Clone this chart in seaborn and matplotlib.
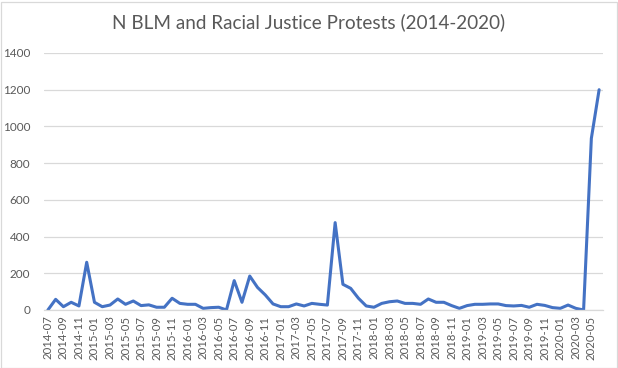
import numpy as np
import pandas as pd
import matplotlib
matplotlib.use("Agg")
import matplotlib.pyplot as plt
import seaborn as sns
from matplotlib.patches import Rectangle

# ------------------------------------------------------------
# Data: monthly counts, 2014-07 .. 2020-06
# ------------------------------------------------------------
months = pd.period_range("2014-07", "2020-06", freq="M").strftime("%Y-%m").tolist()
protests = [
    0, 58, 18, 42, 22, 260,                     # 2014-07 .. 2014-12
    42, 18, 27, 60, 31, 49, 24, 28, 15, 15, 64, 36,   # 2015
    31, 31, 9, 13, 15, 0, 160, 42, 185, 123, 82, 33,  # 2016
    18, 18, 33, 22, 36, 31, 27, 476, 140, 118, 64, 22,  # 2017
    15, 36, 45, 49, 36, 36, 31, 60, 42, 42, 24, 9,    # 2018
    24, 31, 31, 33, 33, 24, 22, 25, 15, 31, 25, 13,   # 2019
    9, 27, 9, 0, 935, 1200,                     # 2020-01 .. 2020-06
]
y_ticks = [0, 200, 400, 600, 800, 1000, 1200, 1400]

df = pd.DataFrame({"pos": np.arange(len(months)), "month": months, "n": protests})

# ------------------------------------------------------------
# Plot
# ------------------------------------------------------------
sns.set_style("white")
plt.rcParams["font.family"] = ["Lato", "DejaVu Sans"]

fig = plt.figure(figsize=(6.18, 3.68), dpi=100)
ax = fig.add_axes([44 / 618, 1 - 310 / 368, (603 - 44) / 618, (310 - 53) / 368])

sns.lineplot(data=df, x="pos", y="n", ax=ax, color="#4472C4", linewidth=2.2)

ax.set_xlim(-0.5, len(months) - 0.5)
ax.set_ylim(0, 1400)
ax.set_yticks(y_ticks)
ax.set_yticklabels([str(v) for v in y_ticks], color="#595959", fontsize=8.5)
ax.set_xticks(df["pos"][::2])
ax.set_xticklabels(df["month"][::2], rotation=90, color="#595959", fontsize=8.2)
ax.tick_params(axis="both", length=0, pad=4)
ax.tick_params(axis="y", pad=10)

ax.grid(axis="y", color="#D9D9D9", linewidth=0.9)
ax.set_axisbelow(True)
for side in ["top", "right", "left"]:
    ax.spines[side].set_visible(False)
ax.spines["bottom"].set_color("#D9D9D9")
ax.spines["bottom"].set_linewidth(0.9)
ax.set_xlabel("")
ax.set_ylabel("")

fig.text(0.5, 1 - 22 / 368, "N BLM and Racial Justice Protests (2014-2020)",
         ha="center", va="center", fontsize=13.6, color="#595959")

# chart area border
fig.patches.append(Rectangle((0.5 / 618, 0.5 / 368), 616 / 618, 366 / 368,
                             transform=fig.transFigure, fill=False,
                             edgecolor="#D9D9D9", linewidth=0.9))

fig.savefig("out.png", dpi=100)
